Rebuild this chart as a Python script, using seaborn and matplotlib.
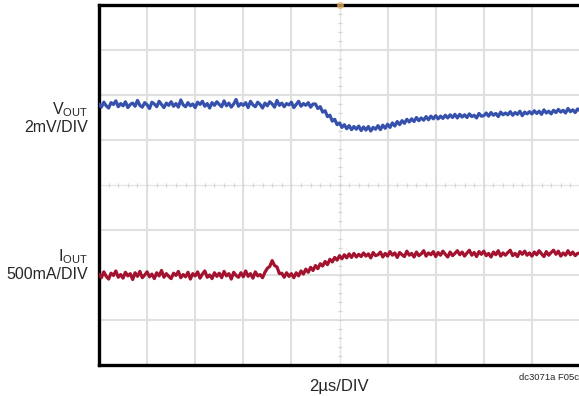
import matplotlib
matplotlib.use("Agg")
import matplotlib.pyplot as plt
import numpy as np
import pandas as pd
import seaborn as sns

# Time axis of the scope capture (2us/DIV, 10 divisions, trigger at centre)
time_us = [round(-10 + 0.1 * i, 1) for i in range(201)]

# V_OUT trace, in screen divisions from the centre graticule line (2mV/DIV)
vout_div = [
    1.80, 1.73, 1.84, 1.76, 1.71, 1.83, 1.79, 1.87, 1.74, 1.81,
    1.76, 1.85, 1.72, 1.79, 1.82, 1.75, 1.88, 1.77, 1.73, 1.83,
    1.78, 1.70, 1.84, 1.80, 1.74, 1.86, 1.79, 1.72, 1.82, 1.77,
    1.85, 1.75, 1.81, 1.73, 1.89, 1.78, 1.74, 1.83, 1.76, 1.80,
    1.72, 1.84, 1.79, 1.86, 1.75, 1.81, 1.71, 1.83, 1.77, 1.85,
    1.79, 1.74, 1.87, 1.76, 1.82, 1.73, 1.80, 1.90, 1.75, 1.81,
    1.77, 1.83, 1.72, 1.86, 1.78, 1.74, 1.84, 1.79, 1.71, 1.82,
    1.76, 1.85, 1.80, 1.73, 1.88, 1.77, 1.82, 1.74, 1.81, 1.78,
    1.84, 1.72, 1.79, 1.86, 1.75, 1.81, 1.77, 1.83, 1.73, 1.80,
    1.80, 1.70, 1.74, 1.62, 1.65, 1.52, 1.55, 1.42, 1.46, 1.34,
    1.38, 1.28, 1.34, 1.25, 1.32, 1.23, 1.30, 1.24, 1.31, 1.21,
    1.29, 1.22, 1.30, 1.20, 1.28, 1.24, 1.32, 1.23, 1.33, 1.26,
    1.35, 1.28, 1.38, 1.31, 1.41, 1.34, 1.43, 1.37, 1.46, 1.40,
    1.47, 1.41, 1.50, 1.43, 1.49, 1.44, 1.52, 1.45, 1.53, 1.47,
    1.54, 1.47, 1.53, 1.48, 1.55, 1.49, 1.56, 1.50, 1.57, 1.49,
    1.57, 1.51, 1.56, 1.50, 1.58, 1.52, 1.55, 1.49, 1.59, 1.53,
    1.54, 1.60, 1.53, 1.61, 1.55, 1.59, 1.52, 1.62, 1.56, 1.60,
    1.56, 1.63, 1.55, 1.61, 1.57, 1.64, 1.54, 1.62, 1.58, 1.63,
    1.58, 1.65, 1.59, 1.64, 1.57, 1.67, 1.60, 1.64, 1.58, 1.66,
    1.61, 1.68, 1.62, 1.66, 1.60, 1.70, 1.63, 1.67, 1.61, 1.69,
    1.65,
]

# I_OUT trace, in screen divisions from the centre graticule line (500mA/DIV)
iout_div = [
    -1.98, -2.06, -1.93, -2.03, -2.09, -1.96, -2.01, -1.91, -2.05, -1.99,
    -2.07, -1.94, -2.02, -1.97, -2.10, -1.95, -2.03, -1.92, -2.06, -2.00,
    -1.93, -2.04, -1.98, -2.08, -1.95, -2.02, -1.90, -2.05, -1.97, -2.03,
    -2.08, -1.96, -2.01, -1.92, -2.06, -1.99, -2.04, -1.94, -2.09, -1.97,
    -2.02, -1.93, -2.07, -1.98, -1.91, -2.05, -2.00, -2.08, -1.95, -2.03,
    -1.96, -2.06, -1.92, -2.02, -1.97, -2.09, -1.94, -2.01, -2.05, -1.95,
    -2.04, -1.91, -2.03, -1.97, -2.07, -1.93, -2.02, -1.99, -2.06, -1.94,
    -1.85, -1.81, -1.68, -1.79, -1.82, -1.97, -1.96, -2.05, -1.95, -2.03,
    -1.97, -2.06, -1.95, -2.02, -1.91, -1.98, -1.87, -1.94, -1.83, -1.90,
    -1.79, -1.86, -1.75, -1.80, -1.70, -1.77, -1.65, -1.71, -1.61, -1.67,
    -1.57, -1.64, -1.55, -1.62, -1.53, -1.61, -1.52, -1.60, -1.54, -1.59,
    -1.51, -1.58, -1.53, -1.62, -1.50, -1.57, -1.55, -1.49, -1.60, -1.52,
    -1.58, -1.48, -1.56, -1.51, -1.61, -1.50, -1.55, -1.59, -1.47, -1.56,
    -1.52, -1.60, -1.49, -1.57, -1.53, -1.46, -1.58, -1.51, -1.55, -1.48,
    -1.59, -1.50, -1.56, -1.47, -1.54, -1.60, -1.49, -1.57, -1.52, -1.46,
    -1.55, -1.49, -1.58, -1.51, -1.45, -1.56, -1.50, -1.59, -1.48, -1.54,
    -1.47, -1.57, -1.52, -1.60, -1.49, -1.55, -1.46, -1.58, -1.51, -1.56,
    -1.50, -1.45, -1.57, -1.52, -1.59, -1.48, -1.54, -1.47, -1.56, -1.51,
    -1.58, -1.49, -1.55, -1.46, -1.53, -1.59, -1.48, -1.56, -1.50, -1.45,
    -1.54, -1.47, -1.58, -1.51, -1.56, -1.46, -1.55, -1.49, -1.57, -1.52,
    -1.51,
]

channel_labels = [r"V$_{\mathrm{OUT}}$" + "\n2mV/DIV", r"I$_{\mathrm{OUT}}$" + "\n500mA/DIV"]
xlabel_text = "2µs/DIV"
figure_id = "dc3071a F05c"

sns.set_style("white")
base_font = "Liberation Sans"
plt.rcParams["font.family"] = [base_font, "DejaVu Sans"]
plt.rcParams["mathtext.fontset"] = "custom"
plt.rcParams["mathtext.rm"] = base_font
plt.rcParams["mathtext.it"] = base_font

W, H = 579, 396
fig = plt.figure(figsize=(W / 100, H / 100), dpi=100)
ax = fig.add_axes([99 / W, (H - 365) / H, 481 / W, 360 / H])

df = pd.DataFrame({"t": time_us, "vout": vout_div, "iout": iout_div})

# Graticule: 10 x 8 divisions
for x in range(-8, 10, 2):
    if x != 0:
        ax.axvline(x, color="#e0e0e0", lw=1.5, zorder=0)
for y in range(-3, 4):
    if y != 0:
        ax.axhline(y, color="#e0e0e0", lw=1.5, zorder=0)
# Centre lines with minor tick marks
ax.axvline(0, color="#e6e6e6", lw=1.0, zorder=0)
ax.axhline(0, color="#e6e6e6", lw=1.0, zorder=0)
minor_x = np.arange(-10, 10.01, 0.4)
minor_y = np.arange(-4, 4.01, 0.2)
ax.plot(minor_x, np.zeros_like(minor_x), ls="none", marker="|", ms=3.5, mew=0.9,
        color="#d4d4d4", zorder=0)
ax.plot(np.zeros_like(minor_y), minor_y, ls="none", marker="_", ms=3.5, mew=0.9,
        color="#d4d4d4", zorder=0)

sns.lineplot(data=df, x="t", y="vout", ax=ax, color="#3651ab", lw=2.3, zorder=3)
sns.lineplot(data=df, x="t", y="iout", ax=ax, color="#a3122f", lw=2.3, zorder=3)

# Trigger marker
ax.plot([0], [4], marker="o", ms=4, color="#f2c27a", mec="#e8a84e", clip_on=False,
        zorder=4, alpha=0.7)

ax.set_xlim(-10, 10)
ax.set_ylim(-4, 4)
ax.set_xticks([])
ax.set_yticks([])
ax.set_xlabel("")
ax.set_ylabel("")
for side in ["left", "top", "bottom"]:
    ax.spines[side].set_linewidth(2.4)
    ax.spines[side].set_color("black")
ax.spines["right"].set_visible(False)

fig.text(88 / W, 1 - 118 / H, channel_labels[0], ha="right", va="center",
         fontsize=11.5, linespacing=1.1)
fig.text(88 / W, 1 - 265 / H, channel_labels[1], ha="right", va="center",
         fontsize=11.5, linespacing=1.1)
fig.text(339 / W, 1 - 387 / H, xlabel_text, ha="center", va="center", fontsize=12)
fig.text(579 / W, 1 - 378 / H, figure_id, ha="right", va="center", fontsize=6.8)

fig.savefig("out.png", dpi=100)
